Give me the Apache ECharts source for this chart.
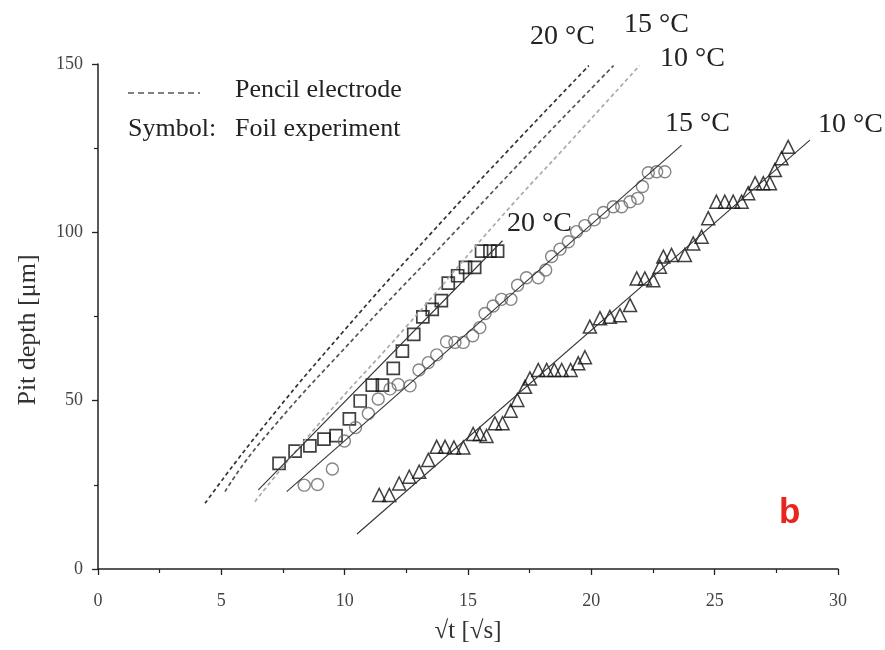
<!DOCTYPE html>
<html>
<head>
<meta charset="utf-8">
<script src="https://cdn.jsdelivr.net/npm/echarts@6/dist/echarts.min.js"></script>
<style>
  html, body { margin: 0; padding: 0; background: #fff; }
  #main { width: 885px; height: 650px; }
</style>
</head>
<body>
<div id="main"></div>
<script>
// pencil electrode curves [sqrt(t), depth]
var pencil20 = [[4.34, 19.5], [6.57, 41], [10, 71], [13.6, 100.5], [16.97, 127], [19.9, 149.5]];
var pencil15 = [[5.15, 23], [6.57, 37.5], [10.5, 69.5], [14.54, 100.7], [17.98, 127.4], [20.9, 149.5]];
var pencil10 = [[6.36, 20], [9, 43.5], [12.5, 72], [16.4, 105], [19.2, 127.4], [21.95, 149.5]];

// fitted lines through foil data
var fit20 = [[6.5, 23.5], [16.4, 97.5]];
var fit15 = [[7.65, 23], [23.66, 125.9]];
var fit10 = [[10.5, 10.4], [28.86, 127.4]];

// foil experiment, 20 °C (squares)
var foil20 = [
  [7.34, 31.4], [7.99, 35.0], [8.59, 36.6], [9.16, 38.6], [9.65, 39.6], [10.19, 44.6],
  [10.63, 49.9], [11.12, 54.6], [11.53, 54.6], [11.97, 59.6], [12.34, 64.7], [12.8, 69.7],
  [13.17, 74.9], [13.55, 77.1], [13.92, 79.7], [14.2, 84.9], [14.58, 87.1], [14.9, 89.6],
  [15.27, 89.6], [15.55, 94.4], [15.89, 94.4], [16.2, 94.4]
];
// foil experiment, 15 °C (circles)
var foil15 = [
  [8.36, 24.9], [8.9, 25.1], [9.5, 29.7], [9.99, 38.0], [10.44, 42.0], [10.96, 46.2],
  [11.36, 50.5], [11.84, 53.5], [12.17, 54.8], [12.65, 54.4], [13.01, 59.1], [13.39, 61.3],
  [13.73, 63.6], [14.13, 67.5], [14.47, 67.3], [14.81, 67.3], [15.19, 69.3], [15.48, 71.7],
  [15.69, 75.9], [16.02, 78.1], [16.36, 80.1], [16.74, 80.1], [17.01, 84.3], [17.37, 86.5],
  [17.85, 86.5], [18.15, 88.8], [18.39, 92.8], [18.73, 95.0], [19.07, 97.2], [19.4, 100.2],
  [19.74, 102.0], [20.12, 103.7], [20.49, 105.9], [20.89, 107.6], [21.23, 107.6], [21.57, 109.1],
  [21.88, 110.1], [22.07, 113.6], [22.31, 117.7], [22.65, 118.0], [22.98, 118.0]
];
// foil experiment, 10 °C (triangles)
var foil10 = [
  [11.4, 22.0], [11.81, 22.0], [12.21, 25.4], [12.62, 27.4], [13.02, 28.9], [13.39, 32.4],
  [13.73, 36.3], [14.07, 36.3], [14.43, 36.1], [14.81, 36.1], [15.21, 40.1], [15.48, 40.1],
  [15.75, 39.5], [16.09, 43.3], [16.4, 43.3], [16.73, 47.0], [17.0, 50.2], [17.31, 54.1],
  [17.51, 56.6], [17.85, 59.1], [18.19, 59.1], [18.5, 59.1], [18.8, 59.1], [19.16, 59.1],
  [19.47, 61.1], [19.74, 62.9], [19.94, 72.0], [20.35, 74.5], [20.75, 74.9], [21.16, 75.4],
  [21.57, 78.4], [21.84, 86.3], [22.17, 86.3], [22.51, 85.8], [22.78, 89.8], [22.92, 92.8],
  [23.25, 93.3], [23.79, 93.3], [24.13, 96.7], [24.47, 98.7], [24.74, 104.2], [25.07, 109.1],
  [25.41, 109.1], [25.75, 109.1], [26.09, 109.1], [26.36, 111.6], [26.64, 114.6], [26.97, 114.6],
  [27.24, 114.6], [27.44, 118.5], [27.71, 122.0], [27.98, 125.4]
];

var serif = 'Liberation Serif';
var myChart = echarts.init(document.getElementById('main'));

function dashed(data, color) {
    return {
        type: 'line', data: data, smooth: true, showSymbol: false, silent: true,
        lineStyle: { color: color, width: 1.7, type: [4, 3] }
    };
}
function fit(data) {
    return {
        type: 'line', data: data, showSymbol: false, silent: true,
        lineStyle: { color: '#333', width: 1.1 }
    };
}
function dots(data, symbol, size, color, bw) {
    return {
        type: 'scatter', data: data, symbol: symbol, symbolSize: size,
        itemStyle: { color: 'rgba(0,0,0,0)', borderColor: color, borderWidth: bw }
    };
}
function label(text, x, y, size) {
    return {
        type: 'text', left: x, top: y,
        style: { text: text, font: (size || 28) + 'px "' + serif + '"', fill: '#222' }
    };
}

var axisCommon = {
    axisLine: { show: true, lineStyle: { color: '#222', width: 1.5 } },
    axisTick: { show: true, inside: false, length: 6, lineStyle: { color: '#222', width: 1.3 } },
    minorTick: { show: true, splitNumber: 2, length: 4, lineStyle: { color: '#222', width: 1.2 } },
    splitLine: { show: false },
    nameTextStyle: { fontFamily: serif, fontSize: 25, color: '#333' }
};

var option = {
    animation: false,
    backgroundColor: '#fff',
    grid: { left: 98, right: 47, top: 64, bottom: 81 },
    xAxis: Object.assign({
        type: 'value', min: 0, max: 30, interval: 5,
        name: '√t [√s]', nameLocation: 'middle', nameGap: 50,
        axisLabel: { fontFamily: serif, fontSize: 18, color: '#444', margin: 23 }
    }, axisCommon),
    yAxis: Object.assign({
        type: 'value', min: 0, max: 150, interval: 50,
        axisLabel: { fontFamily: serif, fontSize: 18, color: '#444', margin: 15 }
    }, axisCommon),
    series: [
        dashed(pencil20, '#333'),
        dashed(pencil15, '#555'),
        dashed(pencil10, '#aaa'),
        fit(fit20),
        fit(fit15),
        fit(fit10),
        dots(foil20, 'rect', 12, '#111', 1.7),
        dots(foil15, 'circle', 12, '#666', 1.4),
        dots(foil10, 'triangle', 13, '#111', 1.5)
    ],
    graphic: [
        { type: 'line', shape: { x1: 128, y1: 93, x2: 200, y2: 93 },
          style: { stroke: '#555', lineWidth: 1.4, lineDash: [6, 4] } },
        label('Pencil electrode', 235, 77, 26),
        label('Symbol:', 128, 116, 26),
        label('Foil experiment', 235, 116, 26),
        label('20 °C', 530, 23),
        label('15 °C', 624, 11),
        label('10 °C', 660, 45),
        label('15 °C', 665, 110),
        label('10 °C', 818, 111),
        label('20 °C', 507, 210),
        // y axis title
        { type: 'text', x: 28, y: 330, rotation: Math.PI / 2,
          style: { text: 'Pit depth [μm]', font: '26px "' + serif + '"', fill: '#333',
                   align: 'center', verticalAlign: 'middle' } },
        { type: 'text', left: 779, top: 496,
          style: { text: 'b', font: 'bold 35px "Liberation Sans"', fill: '#e8251f' } }
    ]
};
myChart.setOption(option);
</script>
</body>
</html>
